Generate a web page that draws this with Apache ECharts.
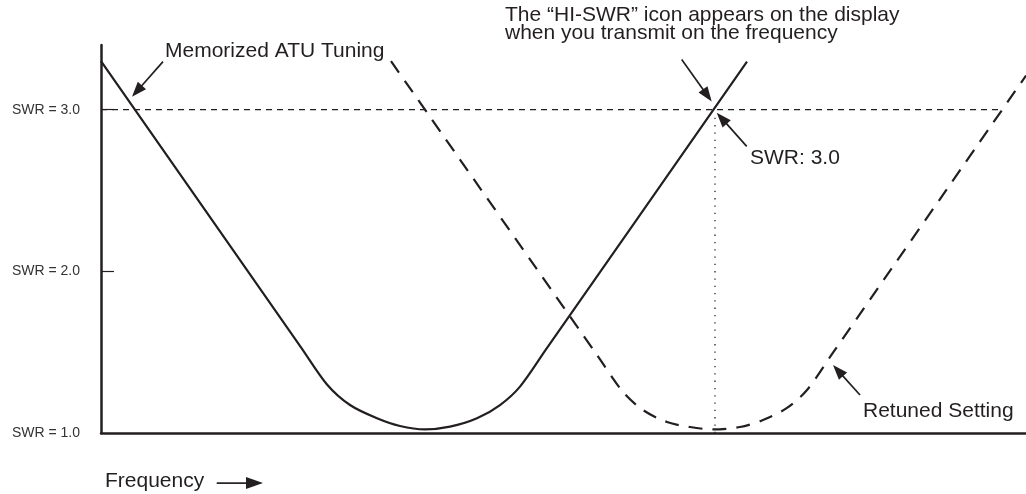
<!DOCTYPE html>
<html>
<head>
<meta charset="utf-8">
<script src="https://cdn.jsdelivr.net/npm/echarts@6/dist/echarts.min.js"></script>
<style>
  html, body { margin: 0; padding: 0; background: #fff; }
  #chart { width: 1026px; height: 494px; }
</style>
</head>
<body>
<div id="chart"></div>
<script>
// SWR against frequency (x in arbitrary frequency units across the band)
const memorizedCurve = [
  [0, 3.30], [200, 1.53], [226, 1.30], [249, 1.173], [276, 1.091], [299, 1.043],
  [324, 1.022], [349, 1.039], [376, 1.091], [399, 1.173], [419, 1.287], [445, 1.517], [646, 3.297]
];
const retunedCurve = [
  [290, 3.30], [496, 1.483], [522, 1.254], [542, 1.142], [566, 1.068], [589, 1.037],
  [612, 1.022], [639, 1.037], [662, 1.080], [686, 1.155], [706, 1.266], [732, 1.497], [925, 3.211]
];
const hiSwrLevel = [[0, 3.0], [901, 3.0]];
const hiSwrFrequency = [[614, 1.0], [614, 2.98]];

const swrTicks = [1, 2, 3];
const swrTickLabels = ['SWR = 1.0', 'SWR = 2.0', 'SWR = 3.0'];

const ink = '#231f20';
const chart = echarts.init(document.getElementById('chart'), null, { renderer: 'canvas' });

chart.setOption({
  animation: false,
  grid: { left: 101, right: 0, top: 45, bottom: 61, containLabel: false, outerBoundsMode: 'none' },
  xAxis: {
    type: 'value', min: 0, max: 925,
    axisLine: { show: true, lineStyle: { color: ink, width: 2.5 } },
    axisTick: { show: false }, axisLabel: { show: false }, splitLine: { show: false }
  },
  yAxis: {
    type: 'value', min: 1, max: 3.4, interval: 1,
    axisLine: { show: true, lineStyle: { color: ink, width: 2.5 } },
    axisTick: { show: true, inside: true, length: 13, customValues: [2, 3], lineStyle: { color: ink, width: 1.2 } },
    axisLabel: {
      customValues: swrTicks,
      formatter: v => {
        const i = swrTicks.findIndex(t => Math.abs(t - v) < 1e-6);
        return i < 0 ? '' : swrTickLabels[i];
      },
      margin: 21, color: '#333', fontSize: 14, fontFamily: '"Liberation Sans", Arial, sans-serif'
    },
    splitLine: { show: false }
  },
  series: [
    {
      name: 'Memorized ATU Tuning', type: 'line', data: memorizedCurve,
      showSymbol: false, smooth: 0.3, z: 4,
      lineStyle: { color: ink, width: 2.2 }
    },
    {
      name: 'Retuned Setting', type: 'line', data: retunedCurve,
      showSymbol: false, smooth: 0.3, z: 4,
      lineStyle: { color: ink, width: 2.2, type: [14, 10] }
    },
    {
      name: 'SWR 3.0 level', type: 'line', data: hiSwrLevel,
      showSymbol: false, z: 2,
      lineStyle: { color: ink, width: 1.1, type: [6, 5] }
    },
    {
      name: 'HI-SWR frequency', type: 'line', data: hiSwrFrequency,
      showSymbol: false, z: 2,
      lineStyle: { color: ink, width: 1.3, type: [1.3, 6] }
    }
  ]
});

// Callouts, anchored in data coordinates so they stay on the curves
const callouts = [
  { lines: ['Memorized ATU Tuning'], at: [64, 3.359], from: [62, 3.297], to: [31, 3.080] },
  { lines: ['The \u201CHI-SWR\u201D icon appears on the display', 'when you transmit on the frequency'],
    at: [404, 3.585], from: [580.7, 3.310], to: [610.7, 3.050] },
  { lines: ['SWR: 3.0'], at: [649, 2.700], from: [645.7, 2.773], to: [615.7, 2.981] },
  { lines: ['Retuned Setting'], at: [762, 1.133], from: [759, 1.235], to: [732, 1.421] },
  { lines: ['Frequency'], at: [4, 0.703], from: [115.7, 0.690], to: [162, 0.690], head: [17, 6] }
];

const px = p => chart.convertToPixel({ gridIndex: 0 }, p);
const elements = [];
callouts.forEach(c => {
  const a = px(c.at);
  c.lines.forEach((t, i) => {
    elements.push({
      type: 'text', x: a[0], y: a[1] + i * 18, z: 10,
      style: { text: t, fill: ink, font: '21px "Liberation Sans", Arial, sans-serif', align: 'left', verticalAlign: 'middle' }
    });
  });
  const p0 = px(c.from), p1 = px(c.to);
  const len = c.head ? c.head[0] : 15, half = c.head ? c.head[1] : 5.5;
  const dx = p1[0] - p0[0], dy = p1[1] - p0[1], d = Math.hypot(dx, dy);
  const ux = dx / d, uy = dy / d;
  const bx = p1[0] - ux * len, by = p1[1] - uy * len;
  elements.push({
    type: 'line', z: 10,
    shape: { x1: p0[0], y1: p0[1], x2: bx + ux * 2, y2: by + uy * 2 },
    style: { stroke: ink, lineWidth: 1.7 }
  });
  elements.push({
    type: 'polygon', z: 10,
    shape: { points: [[p1[0], p1[1]], [bx - uy * half, by + ux * half], [bx + uy * half, by - ux * half]] },
    style: { fill: ink }
  });
});
chart.setOption({ graphic: elements });
</script>
</body>
</html>
